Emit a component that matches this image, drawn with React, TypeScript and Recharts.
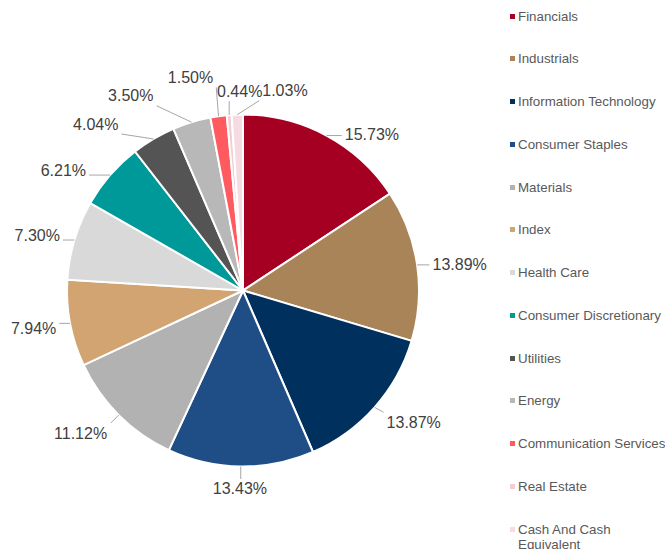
import React from 'react';
import { PieChart, Pie, Cell, Legend } from 'recharts';

const categories = [
  'Financials',
  'Industrials',
  'Information Technology',
  'Consumer Staples',
  'Materials',
  'Index',
  'Health Care',
  'Consumer Discretionary',
  'Utilities',
  'Energy',
  'Communication Services',
  'Real Estate',
  'Cash And Cash Equivalent',
];

const weights = [15.73, 13.89, 13.87, 13.43, 11.12, 7.94, 7.3, 6.21, 4.04, 3.5, 1.5, 0.44, 1.03];

const colors = [
  '#A50021',
  '#A88458',
  '#00305E',
  '#1F4E86',
  '#B2B2B2',
  '#D2A472',
  '#D9D9D9',
  '#009999',
  '#545454',
  '#B8B8B8',
  '#FF5A5F',
  '#F3CDD6',
  '#F6DCE2',
];

// label layout adjustments (best-fit style), separate from data
const labelNudge: [number, number][] = [
  [14, 18],
  [3.5, 3.3],
  [3, -1],
  [0, 2.5],
  [-2.5, 1.5],
  [-2, 0],
  [-3, 4],
  [-15, 11],
  [-29, 3.4],
  [-44, -7],
  [-20, -19],
  [15, -4],
  [49.5, -4],
];

const data = categories.map((name, i) => ({ name, value: weights[i] }));

const RAD = Math.PI / 180;
const LABEL_FONT = 16;

function textWidth(s: string) {
  let w = 0;
  for (const ch of s) {
    if (ch === '.') w += 0.278 * LABEL_FONT;
    else if (ch === '%') w += 0.889 * LABEL_FONT;
    else w += 0.556 * LABEL_FONT;
  }
  return w;
}

const clamp = (v: number) => Math.max(-1, Math.min(1, v));

const renderLabel = (props: any) => {
  const { cx, cy, midAngle, outerRadius, index, value } = props;
  const ux = Math.cos(midAngle * RAD);
  const uy = -Math.sin(midAngle * RAD);
  const text = `${Number(value).toFixed(2)}%`;
  const w = textWidth(text);
  const h = 16;
  const gap = 12;
  const [nx, ny] = labelNudge[index] || [0, 0];
  const lx = cx + (outerRadius + gap) * ux + (w / 2) * clamp(2 * ux) + nx;
  const ly = cy + (outerRadius + gap) * uy + (h / 2) * clamp(2 * uy) + ny;
  const px = cx + outerRadius * ux;
  const py = cy + outerRadius * uy;
  // nearest point on padded label box
  const pad = 3;
  const bx0 = lx - w / 2 - pad;
  const bx1 = lx + w / 2 + pad;
  const by0 = ly - h / 2 - 2;
  const by1 = ly + h / 2 + 2;
  const ex = Math.max(bx0, Math.min(bx1, px));
  const ey = Math.max(by0, Math.min(by1, py));
  const dist = Math.hypot(ex - px, ey - py);
  return (
    <g key={`lbl-${index}`}>
      {dist > 8 && (
        <line x1={ex} y1={ey} x2={px} y2={py} stroke="#A6A6A6" strokeWidth={1} />
      )}
      <text
        x={lx}
        y={ly}
        textAnchor="middle"
        dominantBaseline="central"
        fill="#404040"
        fontSize={LABEL_FONT}
        fontFamily="'Liberation Sans', Arial, sans-serif"
      >
        {text}
      </text>
    </g>
  );
};

const renderLegend = () => (
  <div style={{ fontFamily: "'Liberation Sans', Arial, sans-serif", fontSize: 13.33, color: '#595959' }}>
    {categories.map((name, i) => (
      <div
        key={name}
        style={{ height: 42.75, paddingTop: 8.5, boxSizing: 'border-box', display: 'flex', alignItems: 'flex-start' }}
      >
        <div
          style={{
            width: 5,
            height: 5,
            marginTop: 5,
            marginRight: 3,
            background: colors[i],
            flex: 'none',
          }}
        />
        <div style={{ lineHeight: '15px', maxWidth: 148 }}>{name}</div>
      </div>
    ))}
  </div>
);

export default function App() {
  return (
    <div style={{ width: 665, height: 549, overflow: 'hidden', background: '#fff' }}>
      <style>{`body{margin:0;}`}</style>
      <PieChart width={665} height={549} margin={{ top: 0, right: 0, bottom: 0, left: 0 }}>
        <Pie
          data={data}
          dataKey="value"
          nameKey="name"
          cx={243}
          cy={290.5}
          outerRadius={176}
          startAngle={90}
          endAngle={-270}
          stroke="#ffffff"
          strokeWidth={2}
          labelLine={false}
          label={renderLabel}
          isAnimationActive={false}
        >
          {data.map((d, i) => (
            <Cell key={d.name} fill={colors[i]} />
          ))}
        </Pie>
        <Legend
          layout="vertical"
          verticalAlign="top"
          align="right"
          content={renderLegend}
          wrapperStyle={{ top: 0, left: 510, width: 160 }}
        />
      </PieChart>
    </div>
  );
}
